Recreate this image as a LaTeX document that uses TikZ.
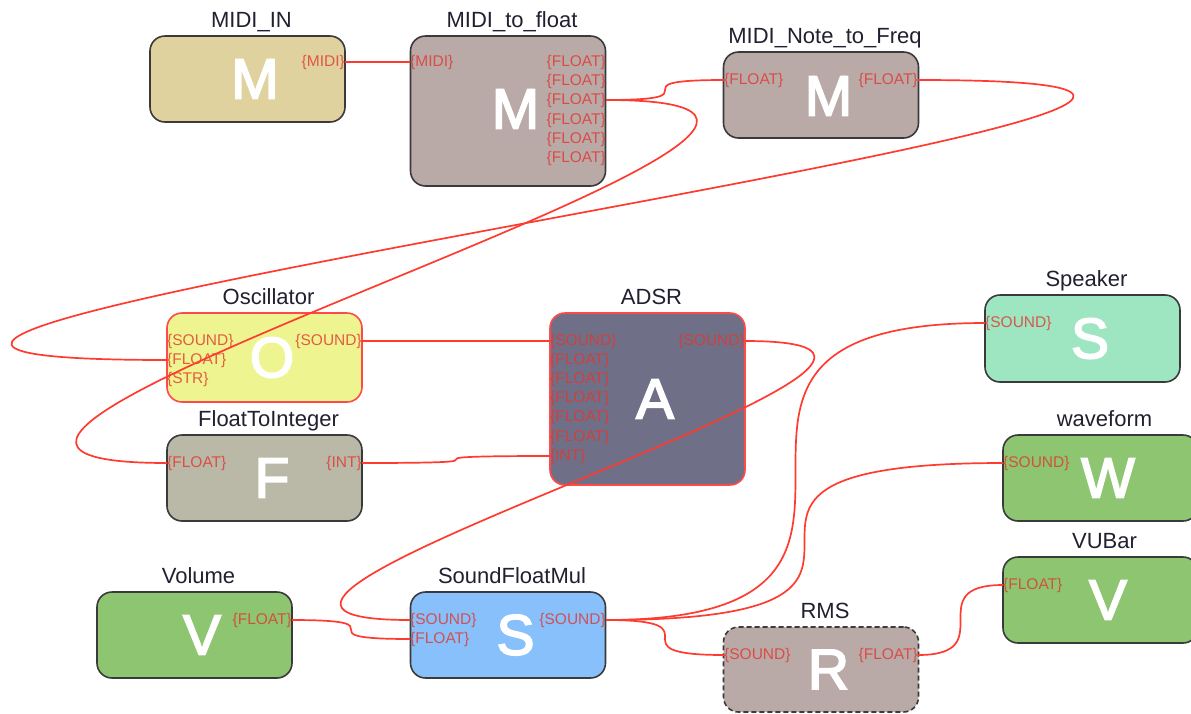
\documentclass[tikz,border=0pt]{standalone}
\usepackage{fontspec}
\setmainfont{Liberation Sans}
\newfontfamily\letterfont[FakeBold=3]{Liberation Sans}
\usepackage{tikz}

\definecolor{boxtan}{HTML}{E0D29E}
\definecolor{boxmauve}{HTML}{B9AAA8}
\definecolor{boxyellow}{HTML}{EEF590}
\definecolor{boxkhaki}{HTML}{BAB8A6}
\definecolor{boxslate}{HTML}{706F88}
\definecolor{boxmint}{HTML}{9EE6C1}
\definecolor{boxgreen}{HTML}{8DC571}
\definecolor{boxblue}{HTML}{87C0FA}
\definecolor{edgegray}{HTML}{3A3A3A}
\definecolor{edgered}{HTML}{FF4A4A}
\definecolor{portred}{HTML}{E2362E}
\definecolor{wirered}{HTML}{FF3B2F}
\definecolor{titlegray}{HTML}{202030}

\tikzset{
  block/.style={draw=edgegray, line width=1.6pt, rounded corners=15pt,
    minimum width=195pt, minimum height=86pt, inner sep=0pt},
  title/.style={anchor=base, text=titlegray, font=\fontsize{22}{26}\selectfont},
  letter/.style={text=white, inner sep=0pt, font=\letterfont\fontsize{57}{60}\selectfont},
  inport/.style={anchor=west, inner sep=0pt, text=portred, text opacity=0.8,
    font=\fontsize{15.5}{18}\selectfont},
  outport/.style={inport, anchor=east},
  wire/.style={draw=wirered, line width=1.7pt},
}

\begin{document}
\begin{tikzpicture}[x=1pt, y=-1pt]
            \useasboundingbox (0,0) rectangle (1191,713);
            % Blocks
            \node[block, fill=boxtan] (midiin) at (247.5,79) {};
            \node[block, fill=boxmauve, minimum height=150pt] (mtf) at (508,111) {};
            \node[block, fill=boxmauve] (mntf) at (821,95) {};
            \node[block, fill=boxyellow, draw=edgered, minimum height=89pt] (osc) at (264.5,357.5) {};
            \node[block, fill=boxkhaki] (fti) at (264.5,478) {};
            \node[block, fill=boxslate, draw=edgered, minimum height=172pt] (adsr) at (647.5,399) {};
            \node[block, fill=boxmint, minimum height=87pt] (speaker) at (1082.5,338.5) {};
            \node[block, fill=boxgreen] (wave) at (1100.5,478) {};
            \node[block, fill=boxgreen] (vubar) at (1100.5,600) {};
            \node[block, fill=boxgreen] (volume) at (194.5,635) {};
            \node[block, fill=boxblue] (sfm) at (508,635) {};
            \node[block, fill=boxmauve, dash pattern=on 5pt off 3pt, minimum height=85pt] (rms) at (821,669.5) {};
            % Titles
            \node[title] (midiin-t) at (251.5,27) {MIDI\_IN};
            \node[title] (mtf-t) at (512,27) {MIDI\_to\_float};
            \node[title] (mntf-t) at (825,43) {MIDI\_Note\_to\_Freq};
            \node[title] (osc-t) at (268.5,304) {Oscillator};
            \node[title] (fti-t) at (268.5,426) {FloatToInteger};
            \node[title] (adsr-t) at (651.5,304) {ADSR};
            \node[title] (speaker-t) at (1086.5,286) {Speaker};
            \node[title] (wave-t) at (1104.5,426) {waveform};
            \node[title] (vubar-t) at (1104.5,548) {VUBar};
            \node[title] (volume-t) at (198.5,583) {Volume};
            \node[title] (sfm-t) at (512,583) {SoundFloatMul};
            \node[title] (rms-t) at (825,618) {RMS};
            % Letters
            \node[letter] (midiin-l) at (255,79) {M};
            \node[letter] (mtf-l) at (515.5,109) {M};
            \node[letter] (mntf-l) at (828.5,96) {M};
            \node[letter] (osc-l) at (272,357.5) {O};
            \node[letter] (fti-l) at (272,478) {F};
            \node[letter] (adsr-l) at (655,399) {A};
            \node[letter] (speaker-l) at (1090,338.5) {S};
            \node[letter] (wave-l) at (1108,478) {W};
            \node[letter] (vubar-l) at (1108,600) {V};
            \node[letter] (volume-l) at (202,635) {V};
            \node[letter] (sfm-l) at (515.5,635) {S};
            \node[letter] (rms-l) at (828.5,669.5) {R};
            % Ports
            \node[outport] (midiin-o) at (345,62) {\{MIDI\}};
            \node[inport] (mtf-i) at (410,62) {\{MIDI\}};
            \node[outport] (mtf-o1) at (606,62) {\{FLOAT\}};
            \node[outport] (mtf-o2) at (606,81) {\{FLOAT\}};
            \node[outport] (mtf-o3) at (606,100) {\{FLOAT\}};
            \node[outport] (mtf-o4) at (606,120) {\{FLOAT\}};
            \node[outport] (mtf-o5) at (606,139) {\{FLOAT\}};
            \node[outport] (mtf-o6) at (606,158) {\{FLOAT\}};
            \node[inport] (mntf-i) at (724,80) {\{FLOAT\}};
            \node[outport] (mntf-o) at (918,80) {\{FLOAT\}};
            \node[inport] (osc-i1) at (167,341) {\{SOUND\}};
            \node[inport] (osc-i2) at (167,360) {\{FLOAT\}};
            \node[inport] (osc-i3) at (167,379) {\{STR\}};
            \node[outport] (osc-o) at (362,341) {\{SOUND\}};
            \node[inport] (fti-i) at (167,463) {\{FLOAT\}};
            \node[outport] (fti-o) at (362,463) {\{INT\}};
            \node[inport] (adsr-i1) at (550,341) {\{SOUND\}};
            \node[inport] (adsr-i2) at (550,360) {\{FLOAT\}};
            \node[inport] (adsr-i3) at (550,379) {\{FLOAT\}};
            \node[inport] (adsr-i4) at (550,398) {\{FLOAT\}};
            \node[inport] (adsr-i5) at (550,417) {\{FLOAT\}};
            \node[inport] (adsr-i6) at (550,437) {\{FLOAT\}};
            \node[inport] (adsr-i7) at (550,456) {\{INT\}};
            \node[outport] (adsr-o) at (745,341) {\{SOUND\}};
            \node[inport] (speaker-i) at (985,323) {\{SOUND\}};
            \node[inport] (wave-i) at (1003,463) {\{SOUND\}};
            \node[inport] (vubar-i) at (1003,585) {\{FLOAT\}};
            \node[outport] (volume-o) at (292,620) {\{FLOAT\}};
            \node[inport] (sfm-i1) at (410,620) {\{SOUND\}};
            \node[inport] (sfm-i2) at (410,639) {\{FLOAT\}};
            \node[outport] (sfm-o) at (606,620) {\{SOUND\}};
            \node[inport] (rms-i) at (724,655) {\{SOUND\}};
            \node[outport] (rms-o) at (918,655) {\{FLOAT\}};
            % Wires
            \draw[wire] (midiin-o.east) -- (mtf-i.west);
            \draw[wire] (mtf-o3.east) .. controls +(118,0) and +(-118,0) .. (mntf-i.west);
            \draw[wire] (mtf-o3.east) .. controls +(439,0) and +(-439,0) .. (fti-i.west);
            \draw[wire] (mntf-o.east) .. controls +(751,0) and +(-751,0) .. (osc-i2.west);
            \draw[wire] (osc-o.east) -- (adsr-i1.west);
            \draw[wire] (fti-o.east) .. controls +(188,0) and +(-188,0) .. (adsr-i7.west);
            \draw[wire] (adsr-o.east) .. controls +(335,0) and +(-335,0) .. (sfm-i1.west);
            \draw[wire] (volume-o.east) .. controls +(118,0) and +(-118,0) .. (sfm-i2.west);
            \draw[wire] (sfm-o.east) .. controls +(379,0) and +(-379,0) .. (speaker-i.west);
            \draw[wire] (sfm-o.east) .. controls +(397,0) and +(-397,0) .. (wave-i.west);
            \draw[wire] (sfm-o.east) .. controls +(118,0) and +(-118,0) .. (rms-i.west);
            \draw[wire] (rms-o.east) .. controls +(85,0) and +(-85,0) .. (vubar-i.west);
        \end{tikzpicture}
\end{document}
